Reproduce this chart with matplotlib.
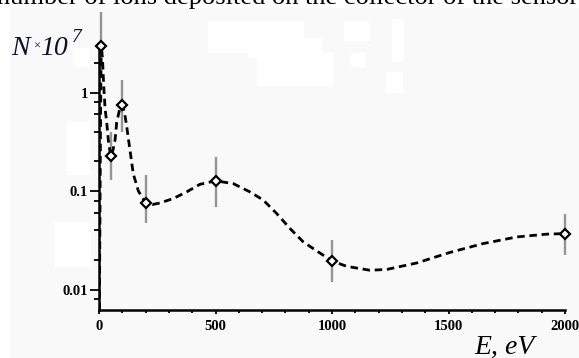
import math
import matplotlib
matplotlib.use("Agg")
import matplotlib.pyplot as plt
from matplotlib.patches import Rectangle
from matplotlib.ticker import FixedLocator, NullFormatter

# ---- data ----
energy = [10, 50, 100, 200, 500, 1000, 2000]
counts = [3.0, 0.225, 0.75, 0.076, 0.127, 0.0195, 0.037]
counts_hi = [6.5, 0.40, 1.33, 0.145, 0.222, 0.032, 0.059]
counts_lo = [1.4, 0.129, 0.40, 0.047, 0.069, 0.0118, 0.0223]

curve_e = [0, 3, 6, 8, 10, 15, 20, 26, 33, 40, 50, 60, 69, 76, 90, 100, 110,
           119, 133, 147, 169, 200, 230, 262, 319, 376, 433, 500, 576, 648,
           705, 763, 820, 877, 941, 1000, 1063, 1163, 1235, 1363, 1506, 1649,
           1793, 1921, 2000]
curve_n = [0.001, 0.02, 0.3, 1.5, 3.0, 2.2, 1.2, 0.69, 0.50, 0.33, 0.225,
           0.26, 0.33, 0.50, 0.70, 0.75, 0.62, 0.45, 0.26, 0.15, 0.10, 0.076,
           0.073, 0.0757, 0.084, 0.098, 0.117, 0.127, 0.119, 0.098, 0.081,
           0.059, 0.0416, 0.0304, 0.0241, 0.0195, 0.0172, 0.0157, 0.016,
           0.0186, 0.0238, 0.0293, 0.0342, 0.0365, 0.037]

x_major = [0, 500, 1000, 1500, 2000]
x_minor = list(range(0, 2001, 100))
y_major = [0.01, 0.1, 1]
y_major_labels = ["0.01", "0.1", "1"]
y_minor = [0.008, 0.02, 0.04, 0.06, 0.08, 0.2, 0.4, 0.6, 0.8, 2]

caption = "number of ions deposited on the collector of the sensor"

# ---- figure ----
W, H = 579, 358
fig = plt.figure(figsize=(W / 100, H / 100), dpi=100)
fig.patch.set_facecolor("white")


def fx(px):
    return px / W


def fy(py):
    return 1 - py / H


# light grey panel of the scanned figure
fig.patches.append(Rectangle((fx(10), 0), 1 - fx(10), fy(8), transform=fig.transFigure,
                             facecolor="#f9f9f9", edgecolor="none", zorder=-3))
white_boxes = [(208, 21, 304, 53), (248, 33, 303, 58), (257, 53, 333, 86),
               (303, 38, 322, 53), (344, 21, 370, 41), (350, 53, 365, 67),
               (392, 19, 404, 62), (386, 72, 403, 93), (67, 122, 90, 175),
               (73, 48, 89, 67), (55, 222, 91, 267)]
for x0, y0, x1, y1 in white_boxes:
    fig.patches.append(Rectangle((fx(x0), fy(y1)), fx(x1) - fx(x0), fy(y0) - fy(y1),
                                 transform=fig.transFigure, facecolor="white",
                                 edgecolor="none", zorder=-2))

ylo, yhi = 0.0062, 7.0
decade_px = 98.5
ax_h_px = (math.log10(yhi) - math.log10(ylo)) * decade_px
ax = fig.add_axes([fx(99), fy(310), fx(565) - fx(99), ax_h_px / H])
ax.set_zorder(1)
ax.set_facecolor("none")
ax.set_yscale("log")
ax.set_xlim(0, 2000)
ax.set_ylim(ylo, yhi)

# error bars
yerr = [[c - l for c, l in zip(counts, counts_lo)],
        [h - c for c, h in zip(counts, counts_hi)]]
ax.errorbar(energy, counts, yerr=yerr, fmt="none", ecolor="#959595",
            elinewidth=1.7, capsize=0, zorder=2, clip_on=False)

# fitted curve
ax.plot(curve_e, curve_n, color="black", lw=2.0, ls=(0, (2.7, 1.7)),
        zorder=3, clip_on=True)

# markers
ax.plot(energy, counts, ls="none", marker="D", ms=5.5, mfc="white", mec="black",
        mew=1.6, zorder=4, clip_on=False)

# axes styling
for s in ("top", "right"):
    ax.spines[s].set_visible(False)
for s in ("left", "bottom"):
    ax.spines[s].set_linewidth(1.8)
ax.spines["left"].set_bounds(ylo, 3.0)

ax.xaxis.set_major_locator(FixedLocator(x_major))
ax.xaxis.set_minor_locator(FixedLocator(x_minor))
ax.set_xticklabels([str(v) for v in x_major])
ax.yaxis.set_major_locator(FixedLocator(y_major))
ax.yaxis.set_minor_locator(FixedLocator(y_minor))
ax.set_yticklabels(y_major_labels)
ax.yaxis.set_minor_formatter(NullFormatter())

for lab in ax.get_xticklabels() + ax.get_yticklabels():
    lab.set_fontfamily("Liberation Serif")
    lab.set_fontweight("bold")
    lab.set_fontsize(10.5)

ax.tick_params(axis="y", which="major", direction="out", length=6.5, width=1.3, pad=1.5)
ax.tick_params(axis="y", which="minor", direction="out", length=3.8, width=1.3)
ax.tick_params(axis="x", which="major", direction="out", length=3, width=1.3, pad=4)
ax.tick_params(axis="x", which="minor", direction="out", length=2.2, width=1.3)

# axis titles as in the scan
fig.text(fx(11), fy(55), "N", family="Liberation Serif", style="italic",
         size=20, color="#10102a", ha="left", va="baseline")
fig.text(fx(33), fy(50), "×", family="Liberation Serif", size=9,
         color="#10102a", ha="left", va="baseline")
fig.text(fx(40), fy(55), "10", family="Liberation Serif", style="italic",
         size=20, color="#10102a", ha="left", va="baseline")
fig.text(fx(72), fy(42), "7", family="Liberation Serif", style="italic",
         size=14, color="#10102a", ha="left", va="baseline")
fig.text(fx(474), fy(354), "E, eV", family="Liberation Serif", style="italic",
         size=20, color="black", ha="left", va="baseline")

# cut-off caption at the very top
fig.text(fx(-3), fy(4), caption, family="Liberation Serif", size=19,
         color="black", ha="left", va="baseline")

fig.savefig("out.png", dpi=100)
